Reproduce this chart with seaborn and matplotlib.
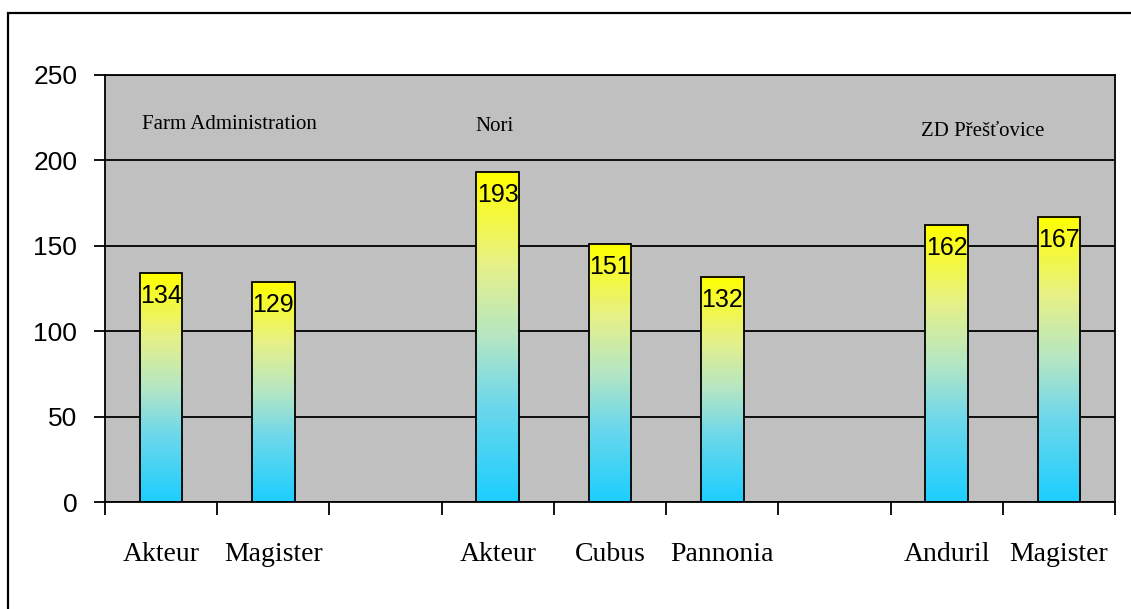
import numpy as np
import pandas as pd
import matplotlib
matplotlib.use("Agg")
import matplotlib.pyplot as plt
import seaborn as sns
from matplotlib.colors import LinearSegmentedColormap
from matplotlib.patches import Rectangle

# slots along the x axis (two empty slots separate the three farms)
slots = ["s0", "s1", "s2", "s3", "s4", "s5", "s6", "s7", "s8"]
variety_labels = ["Akteur", "Magister", "", "Akteur", "Cubus", "Pannonia", "", "Anduril", "Magister"]
yields = [134, 129, None, 193, 151, 132, None, 162, 167]
farm_names = ["Farm Administration", "Nori", "ZD P\u0159e\u0161\u0165ovice"]
y_ticks = [0, 50, 100, 150, 200, 250]

sns.set_theme(style="white")
plt.rcParams["font.family"] = ["Liberation Sans", "DejaVu Sans"]
plt.rcParams["text.color"] = "black"
plt.rcParams["xtick.labelcolor"] = "black"
plt.rcParams["ytick.labelcolor"] = "black"

df = pd.DataFrame({"slot": slots, "value": yields}).dropna()

fig = plt.figure(figsize=(11.31, 6.09), dpi=100)
ax = fig.add_axes([105 / 1131, 1 - 502 / 609, (1115 - 105) / 1131, (502 - 75) / 609])
ax.set_facecolor("#C0C0C0")

sns.barplot(data=df, x="slot", y="value", order=slots, width=0.38,
            color="#C0C0C0", edgecolor="black", linewidth=1.3, ax=ax)

# gradient fill: cyan at the bottom -> pale green -> yellow at the top
cmap = LinearSegmentedColormap.from_list(
    "grad", [(0, "#1CCEFF"), (0.3, "#6FD8EA"), (0.5, "#B5E6C4"), (0.72, "#E6F188"), (1, "#FFFF00")])
grad = np.linspace(0, 1, 256).reshape(-1, 1)
for p in ax.patches:
    h = p.get_height()
    if not h or np.isnan(h):
        continue
    x0 = p.get_x()
    w = p.get_width()
    ax.imshow(grad, extent=[x0, x0 + w, 0, h], origin="lower", aspect="auto",
              cmap=cmap, zorder=2)
    p.set_facecolor("none")
    p.set_zorder(3)
    ax.annotate(f"{h:.0f}", (x0 + w / 2, h), xytext=(0, -8), textcoords="offset points",
                ha="center", va="top", fontsize=18, color="black", zorder=4)

ax.set_xlim(-0.5, len(slots) - 0.5)
ax.set_ylim(0, 250)

# ticks at slot boundaries, labels centred under bars
ax.set_xticks(np.arange(-0.5, len(slots), 1))
ax.set_xticklabels([])
ax.set_xticks(np.arange(len(slots)), minor=True)
ax.set_xticklabels(variety_labels, minor=True, family="Liberation Serif", fontsize=20)
ax.tick_params(axis="x", which="major", bottom=True, length=9, width=1.3, color="black", direction="out")
ax.tick_params(axis="x", which="minor", bottom=True, length=0, pad=29, labelcolor="black")

ax.set_yticks(y_ticks)
ax.set_yticklabels([str(v) for v in y_ticks])
ax.tick_params(axis="y", left=True, length=8, width=1.3, color="black", direction="out",
               pad=12, labelsize=19, labelcolor="black")

ax.yaxis.grid(True, color="black", linewidth=1.3)
ax.xaxis.grid(False)
ax.set_axisbelow(True)
for s in ax.spines.values():
    s.set_visible(True)
    s.set_color("black")
    s.set_linewidth(1.3)

ax.set_xlabel("")
ax.set_ylabel("")

# farm names inside the plot area
farm_pos = [(-0.17, 221), (2.8, 220), (6.77, 217)]
for name, (gx, gy) in zip(farm_names, farm_pos):
    ax.text(gx, gy, name, ha="left", va="center", fontsize=15,
            family="Liberation Serif", color="black")

# frame around the chart (runs off the right and bottom edges)
fig.patches.append(Rectangle((8 / 1131, -0.05), 1.1, 1 - 13 / 609 + 0.05,
                             transform=fig.transFigure, fill=False,
                             edgecolor="black", linewidth=1.6))

fig.savefig("out.png", dpi=100)
